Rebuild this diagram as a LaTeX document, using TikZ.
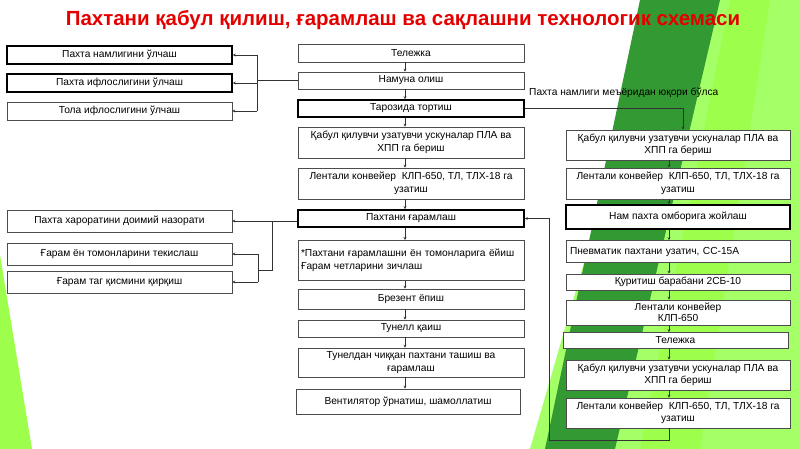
\documentclass[tikz,border=0pt]{standalone}
\usepackage{fontspec}
\setmainfont{Liberation Sans}
\usetikzlibrary{arrows.meta,calc}
\begin{document}
\begin{tikzpicture}[x=1pt,y=-1pt,
 bx/.style={draw=black!70,fill=white,line width=0.6pt,inner sep=1pt,font=\fontsize{10.2}{12.5}\selectfont,align=center},
 tk/.style={line width=1.6pt,draw=black},
 arr/.style={-{Stealth[length=3pt,width=3pt]},line width=0.5pt,black!80},
 ln/.style={line width=0.5pt,black!80}]
\useasboundingbox (0,0) rectangle (800,449);
\fill[white] (0,0) rectangle (800,449);
\fill[green!45!lime!60!white] (660,0) -- (800,0) -- (800,449) -- (530,449) -- cycle;
\fill[green!50!black!80] (640,0) -- (720,0) -- (615,449) -- (545,449) -- cycle;
\fill[lime!60!green!70] (730,0) -- (770,0) -- (700,449) -- (640,449) -- cycle;
\fill[green!40!lime!70] (0,255) -- (32,449) -- (0,449) -- cycle;
\node[font=\bfseries\fontsize{20.5}{24}\selectfont,text=red!90!black] (title) at (403,20) {Пахтани қабул қилиш, ғарамлаш ва сақлашни технологик схемаси};
% left
\node[bx,tk,minimum width=225pt,minimum height=18pt] (l1) at (119.5,55) {Пахта намлигини ўлчаш};
\node[bx,tk,minimum width=225pt,minimum height=18pt] (l2) at (119.5,83) {Пахта ифлослигини ўлчаш};
\node[bx,minimum width=225pt,minimum height=18pt] (l3) at (119.5,111) {Тола ифлослигини ўлчаш};
\node[bx,minimum width=225pt,minimum height=22pt] (l4) at (119.5,221) {Пахта хароратини доимий назорати};
\node[bx,minimum width=225pt,minimum height=22pt] (l5) at (119.5,254) {Ғарам ён томонларини текислаш};
\node[bx,minimum width=225pt,minimum height=22pt] (l6) at (119.5,282) {Ғарам таг қисмини қирқиш};
% centre
\node[bx,minimum width=226pt,minimum height=18pt] (c1) at (411,53) {Тележка};
\node[bx,minimum width=226pt,minimum height=17pt] (c2) at (411,80.5) {Намуна олиш};
\node[bx,tk,minimum width=226pt,minimum height=17pt] (c3) at (411,108.5) {Тарозида тортиш};
\node[bx,minimum width=226pt,minimum height=31pt] (c4) at (411,142.5) {Қабул қилувчи узатувчи ускуналар ПЛА ва\\ХПП га бериш};
\node[bx,minimum width=226pt,minimum height=31pt] (c5) at (411,183.5) {Лентали конвейер \ КЛП-650, ТЛ, ТЛХ-18 га\\узатиш};
\node[bx,tk,minimum width=226pt,minimum height=17pt] (c6) at (411,218.5) {Пахтани ғарамлаш};
\node[bx,minimum width=226pt,minimum height=40pt,text width=220pt,align=left,anchor=north,font=\fontsize{10.2}{13}\selectfont] (c7) at (411,240) {*Пахтани ғарамлашни ён томонларига ёйиш\\*Ғарам четларини зичлаш\\[3pt]};
\node[bx,minimum width=226pt,minimum height=20pt] (c8) at (411,299) {Брезент ёпиш};
\node[bx,minimum width=226pt,minimum height=17pt] (c9) at (411,328.5) {Тунелл қаиш};
\node[bx,minimum width=226pt,minimum height=29pt] (c10) at (411,362.5) {Тунелдан чиққан пахтани ташиш ва\\ғарамлаш};
\node[bx,minimum width=224pt,minimum height=25pt] (c11) at (408,401.5) {Вентилятор ўрнатиш, шамоллатиш};
% right
\node[bx,minimum width=224pt,minimum height=30pt] (r1) at (678,145) {Қабул қилувчи узатувчи ускуналар ПЛА ва\\ХПП га бериш};
\node[bx,minimum width=224pt,minimum height=31pt] (r2) at (678,183.5) {Лентали конвейер \ КЛП-650, ТЛ, ТЛХ-18 га\\узатиш};
\node[bx,tk,minimum width=224pt,minimum height=24pt] (r3) at (678,217) {Нам пахта омборига жойлаш};
\node[bx,minimum width=224pt,minimum height=22pt,text width=216pt,align=left] (r4) at (678,251.5) {Пневматик пахтани узатич, СС-15А};
\node[bx,minimum width=224pt,minimum height=16pt] (r5) at (678,282) {Қуритиш барабани 2СБ-10};
\node[bx,minimum width=224pt,minimum height=25pt,font=\fontsize{10.2}{11}\selectfont] (r6) at (678,312.5) {Лентали конвейер\\ КЛП-650};
\node[bx,minimum width=225pt,minimum height=16pt] (r7) at (675.5,340.5) {Тележка};
\node[bx,minimum width=224pt,minimum height=30pt] (r8) at (678,375) {Қабул қилувчи узатувчи ускуналар ПЛА ва\\ХПП га бериш};
\node[bx,minimum width=224pt,minimum height=30pt] (r9) at (678,413) {Лентали конвейер \ КЛП-650, ТЛ, ТЛХ-18 га\\узатиш};
\node[font=\fontsize{10.2}{12}\selectfont,anchor=west,inner sep=0] (lbl) at (529,93) {Пахта намлиги меъёридан юқори бўлса};
% centre arrows
\coordinate (cx) at (405,0);
\coordinate (rx) at (669,0);
\foreach \a/\b in {c1/c2,c2/c3,c3/c4,c4/c5,c5/c6,c6/c7,c7/c8,c8/c9,c9/c10,c10/c11}
  \draw[arr] (cx |- \a.south) -- (cx |- \b.north);
\foreach \a/\b in {r1/r2,r2/r3,r3/r4,r4/r5,r5/r6,r6/r7,r7/r8,r8/r9}
  \draw[arr] (rx |- \a.south) -- (rx |- \b.north);
% left branches
\coordinate (j1) at (257,80.5);
\draw[ln] (c2.west) -- (j1);
\draw[ln] (257,55) -- (257,111);
\draw[arr] (257,55) -- (l1.east);
\draw[arr] (257,83) -- (l2.east);
\draw[arr] (257,111) -- (l3.east);
\draw[arr] (c6.west |- l4.east) -- (l4.east);
\coordinate (j2) at (272,221);
\draw[ln] (j2) -- (272,270) -- (258,270);
\draw[ln] (258,254) -- (258,282);
\draw[arr] (258,254) -- (l5.east);
\draw[arr] (258,282) -- (l6.east);
% right branch
\coordinate (k1) at (683,108.5);
\draw[ln] (c3.east) -- (k1);
\draw[arr] (k1) -- (k1 |- r1.north);
% feedback
\draw[arr] (rx |- r9.south) -- (rx |- 0,440) -- (549,440) -- (549,218.5) -- (c6.east);
\end{tikzpicture}
\end{document}
